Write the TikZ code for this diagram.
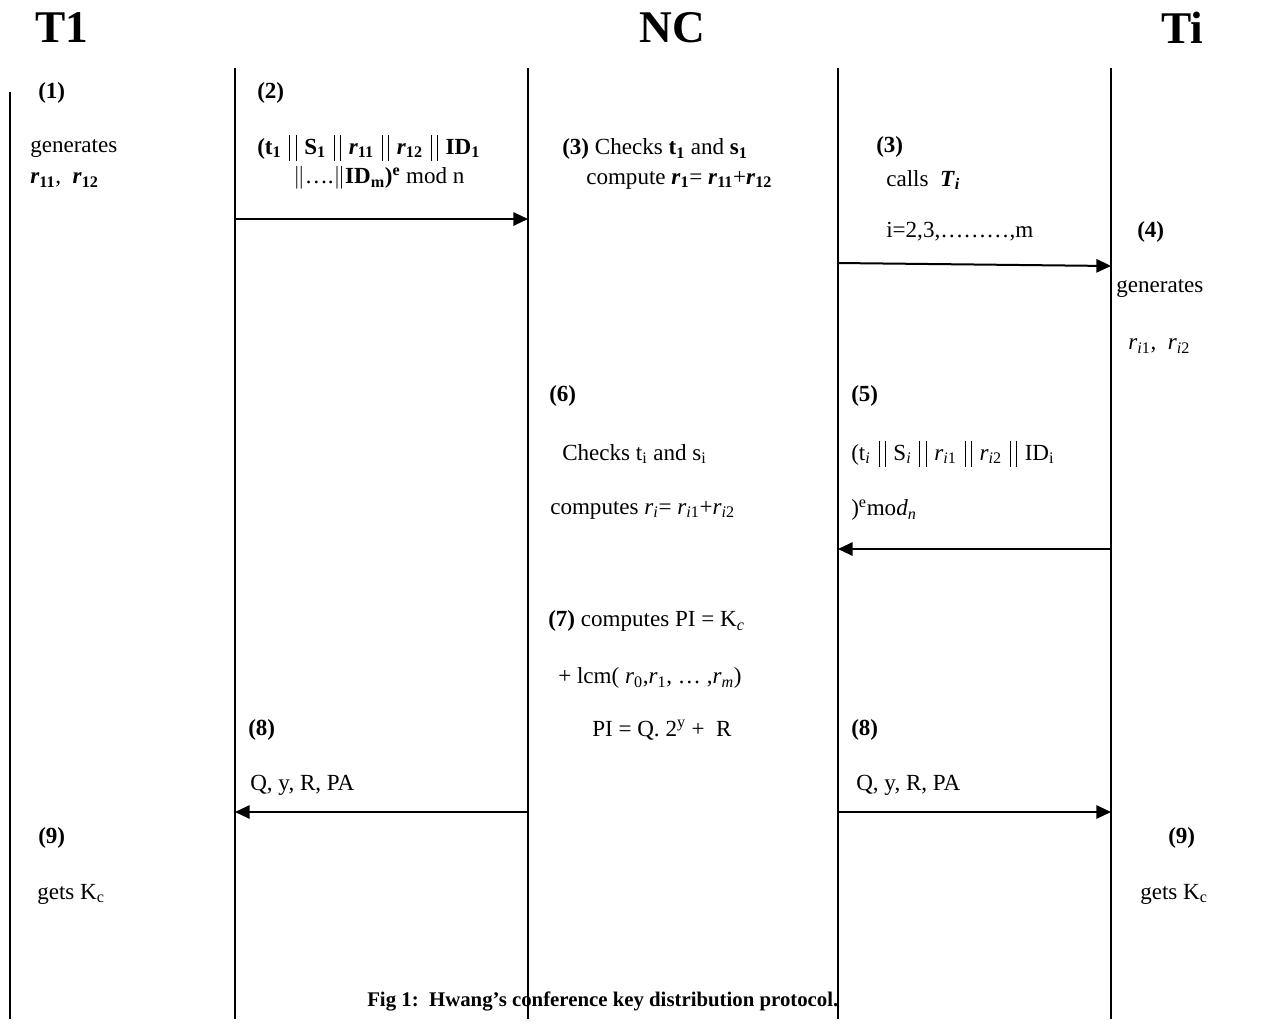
\documentclass[tikz,border=0pt]{standalone}
\usepackage{fontspec}
\usepackage{amsmath}
\setmainfont{Liberation Serif}
\usetikzlibrary{arrows.meta}
\newcommand{\bb}{\kern6pt\rule[-5pt]{0.6pt}{19pt}\kern4pt\rule[-5pt]{0.6pt}{19pt}\kern6pt}
\newcommand{\bri}[1]{\textbf{\textit{r}}\textsubscript{\textbf{#1}}}
\newcommand{\iri}[1]{\textit{r}\textsubscript{#1}}
\begin{document}
\begin{tikzpicture}[x=0.75pt,y=-0.75pt,
  txt/.style={anchor=west, inner sep=0pt, font=\fontsize{17.3}{20}\selectfont},
  ttl/.style={anchor=center, inner sep=0pt, font=\fontsize{34}{38}\selectfont\bfseries},
  life/.style={line width=1.1pt},
  msg/.style={line width=1.5pt, -{Triangle[length=11pt,width=10pt]}}]
\useasboundingbox (0,0) rectangle (1274,1029);
% titles
\node[ttl] (tT1) at (62,28) {T1};
\node[ttl] (tNC) at (672,28) {NC};
\node[ttl] (tTi) at (1182,28) {Ti};
% lifelines
\coordinate (A0) at (10,92);   \coordinate (A1) at (10,1019);
\coordinate (B0) at (235,68);  \coordinate (B1) at (235,1019);
\coordinate (C0) at (528,68);  \coordinate (C1) at (528,1019);
\coordinate (D0) at (838,68);  \coordinate (D1) at (838,1019);
\coordinate (E0) at (1111,68); \coordinate (E1) at (1111,1019);
\draw[line width=1.8pt] (A0) -- (A1);
\draw[life] (B0) -- (B1);
\draw[life] (C0) -- (C1);
\draw[life] (D0) -- (D1);
\draw[life] (E0) -- (E1);
% message end points
\coordinate (m2s) at (235,219);  \coordinate (m2e) at (528,219);
\coordinate (m3s) at (838,263);  \coordinate (m3e) at (1111,266);
\coordinate (m5s) at (1111,549); \coordinate (m5e) at (838,549);
\coordinate (m8ls) at (528,812); \coordinate (m8le) at (235,812);
\coordinate (m8rs) at (838,812); \coordinate (m8re) at (1111,812);
\draw[msg] (m2s) -- (m2e);
\draw[msg] (m3s) -- (m3e);
\draw[msg] (m5s) -- (m5e);
\draw[msg] (m8ls) -- (m8le);
\draw[msg] (m8rs) -- (m8re);
% T1 column
\node[txt] (s1) at (38,93) {\textbf{(1)}};
\node[txt] (s1a) at (30,148) {generates};
\node[txt] (s1b) at (30,180) {\bri{11},\ \ \bri{12}};
% (2)
\node[txt] (s2) at (257,93) {\textbf{(2)}};
\node[txt] (s2a) at (257,148) {\textbf{(t\textsubscript{1}}\bb\textbf{S\textsubscript{1}}\bb\bri{11}\bb\bri{12}\bb\textbf{ID\textsubscript{1}}};
\node[txt] (s2b) at (293,178) {$\|$\dots.$\|$\textbf{ID\textsubscript{m})\textsuperscript{e}} mod n};
% (3) NC
\node[txt] (s3) at (562,149) {\textbf{(3)} Checks \textbf{t\textsubscript{1}} and \textbf{s\textsubscript{1}}};
\node[txt] (s3a) at (586,180) {compute \bri{1}= \bri{11}+\bri{12}};
% (3) calls
\node[txt] (s3b) at (876,147) {\textbf{(3)}};
\node[txt] (s3c) at (886,180) {calls \ \textbf{\textit{T}\textsubscript{\textit{i}}}};
\node[txt] (s3d) at (886,232) {i=2,3,\dots\dots\dots,m};
% (4)
\node[txt] (s4) at (1137,232) {\textbf{(4)}};
\node[txt] (s4a) at (1116,288) {generates};
\node[txt] (s4b) at (1128,346) {\iri{\textit{i}1},\ \ \iri{\textit{i}2}};
% (6)
\node[txt] (s6) at (549,396) {\textbf{(6)}};
\node[txt] (s6a) at (562,454) {Checks t\textsubscript{i} and s\textsubscript{i}};
\node[txt] (s6b) at (550,510) {computes \iri{\textit{i}}= \iri{\textit{i}1}+\iri{\textit{i}2}};
% (5)
\node[txt] (s5) at (851,396) {\textbf{(5)}};
\node[txt] (s5a) at (851,454) {(t\textsubscript{\textit{i}}\bb S\textsubscript{\textit{i}}\bb\iri{\textit{i}1}\bb\iri{\textit{i}2}\bb ID\textsubscript{i}};
\node[txt] (s5b) at (851,510) {)\textsuperscript{e}mo\textit{d}\textsubscript{\textit{n}}};
% (7)
\node[txt] (s7) at (548,621) {\textbf{(7)} computes PI = K\textsubscript{\textit{c}}};
\node[txt] (s7a) at (558,678) {+ lcm( \iri{0},\iri{1}, \dots\ ,\iri{\textit{m}})};
\node[txt] (s7b) at (592,730) {PI = Q. 2\textsuperscript{y} + \ R};
% (8)
\node[txt] (s8l) at (248,730) {\textbf{(8)}};
\node[txt] (s8la) at (250,785) {Q, y, R, PA};
\node[txt] (s8r) at (851,730) {\textbf{(8)}};
\node[txt] (s8ra) at (856,785) {Q, y, R, PA};
% (9)
\node[txt] (s9l) at (38,838) {\textbf{(9)}};
\node[txt] (s9la) at (37,894) {gets K\textsubscript{c}};
\node[txt] (s9r) at (1168,838) {\textbf{(9)}};
\node[txt] (s9ra) at (1140,894) {gets K\textsubscript{c}};
% caption
\node[anchor=west, inner sep=0pt, font=\fontsize{15.6}{18}\selectfont\bfseries] (cap) at (367,1001) {Fig 1:\ \ Hwang’s conference key distribution protocol.};
\end{tikzpicture}
\end{document}
